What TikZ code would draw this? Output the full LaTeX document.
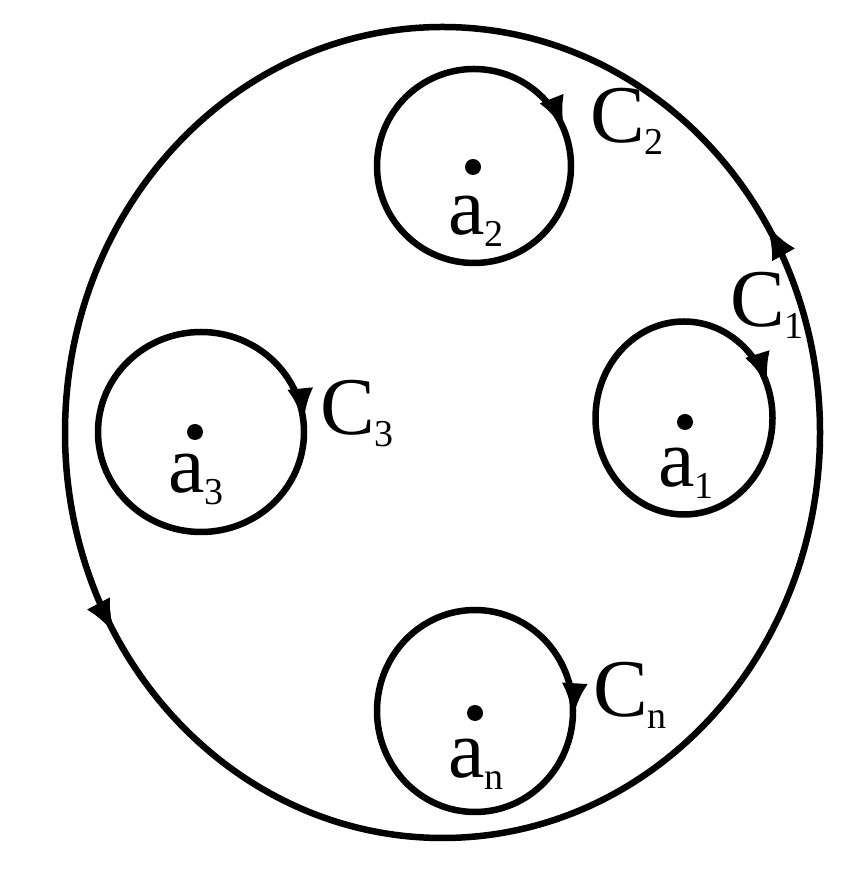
\documentclass[tikz,border=0pt]{standalone}
\usepackage{fontspec}
\setmainfont{Liberation Serif}
\usetikzlibrary{arrows.meta,decorations.markings}
\newcommand\sublbl[2]{#1\raisebox{-12pt}{\fontsize{38}{40}\selectfont #2}}
\tikzset{
  curve/.style={line width=6.5pt},
  lbl/.style={anchor=base west,inner sep=0pt,font=\fontsize{82}{90}\selectfont},
  ccw/.style={postaction={decorate},decoration={markings,
      mark=at position #1 with {\arrow{Latex[length=34pt,width=26pt]}}}},
  cw/.style={postaction={decorate},decoration={markings,
      mark=at position #1 with {\arrowreversed{Latex[length=34pt,width=26pt]}}}},
  pt/.style={fill,circle,inner sep=0pt,minimum size=16pt}
}
\begin{document}
\begin{tikzpicture}[x=1pt,y=1pt]
\useasboundingbox (0,0) rectangle (861,885);
% outer contour
\draw[curve,ccw=0.088,ccw=0.585] (442.5,452.5) ellipse [x radius=377.5,y radius=405.5];
% small contours
\draw[curve,cw=0.06] (474,719) ellipse [x radius=97,y radius=97];
\draw[curve,cw=0.055] (684,467) ellipse [x radius=88.5,y radius=96.5];
\draw[curve,cw=0.015] (201,453) ellipse [x radius=103,y radius=100];
\draw[curve,cw=0.99] (475,174) ellipse [x radius=98,y radius=101];
% points
\node[pt] (p2) at (473,718) {};
\node[pt] (p1) at (685,463) {};
\node[pt] (p3) at (195,453) {};
\node[pt] (pn) at (475,172) {};
% labels
\node[lbl] (lc2) at (590,742) {\sublbl{C}{2}};
\node[lbl] (la2) at (448,650) {\sublbl{a}{2}};
\node[lbl] (lc1) at (730,558) {\sublbl{C}{1}};
\node[lbl] (la1) at (658,398) {\sublbl{a}{1}};
\node[lbl] (lc3) at (320,450) {\sublbl{C}{3}};
\node[lbl] (la3) at (168,392) {\sublbl{a}{3}};
\node[lbl] (lcn) at (593,168) {\sublbl{C}{n}};
\node[lbl] (lan) at (448,107) {\sublbl{a}{n}};
\end{tikzpicture}
\end{document}
